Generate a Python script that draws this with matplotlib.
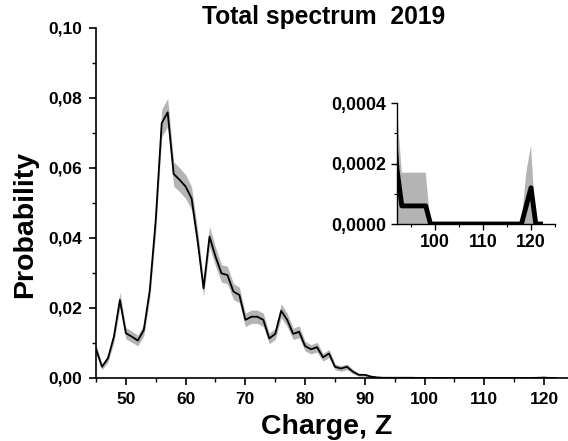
import matplotlib
matplotlib.use("Agg")
import matplotlib.pyplot as plt
from matplotlib.ticker import FuncFormatter, MultipleLocator
import numpy as np

plt.rcParams['font.family'] = ['Liberation Sans', 'DejaVu Sans']
plt.rcParams['font.weight'] = 'bold'

charge = list(range(45, 123))
prob = [0.0083, 0.0032, 0.0056, 0.0118, 0.0223, 0.0128, 0.0118, 0.0107, 0.0137, 0.0250,
        0.0451, 0.0728, 0.0759, 0.0583, 0.0566, 0.0547, 0.0513, 0.0394, 0.0256, 0.0404,
        0.0347, 0.0299, 0.0294, 0.0247, 0.0237, 0.0166, 0.0175, 0.0175, 0.0166, 0.0113,
        0.0126, 0.0192, 0.0166, 0.0126, 0.0132, 0.0091, 0.0082, 0.0088, 0.0059, 0.0070,
        0.0032, 0.0027, 0.0032, 0.0018, 0.0009, 0.0009, 0.0004, 0.00018,
        0.00006, 0.00006, 0.00006, 0.00006, 0.00006, 0.00006,
        0, 0, 0, 0, 0, 0, 0, 0, 0, 0, 0, 0, 0, 0, 0, 0, 0, 0, 0, 0,
        0.00006, 0.00012, 0, 0]
err = [0.0013, 0.0008, 0.0011, 0.0016, 0.0022, 0.0016, 0.0016, 0.0015, 0.0017, 0.0023,
       0.0031, 0.0039, 0.0040, 0.0035, 0.0034, 0.0034, 0.0033, 0.0029, 0.0023, 0.0029,
       0.0027, 0.0025, 0.0025, 0.0023, 0.0022, 0.0019, 0.0019, 0.0019, 0.0019, 0.0015,
       0.0016, 0.0020, 0.0019, 0.0016, 0.0017, 0.0014, 0.0013, 0.0014, 0.0011, 0.0012,
       0.0008, 0.0008, 0.0008, 0.0006, 0.0004, 0.0004, 0.0003, 0.00020,
       0.00011, 0.00011, 0.00011, 0.00011, 0.00011, 0.00011,
       0, 0, 0, 0, 0, 0, 0, 0, 0, 0, 0, 0, 0, 0, 0, 0, 0, 0, 0, 0,
       0.00011, 0.00014, 0, 0]

x = np.array(charge)
y = np.array(prob)
e = np.array(err)

def comma(nd):
    return FuncFormatter(lambda v, p: f"{v:.{nd}f}".replace('.', ','))

fig = plt.figure(figsize=(5.68, 4.41), dpi=100)
ax = fig.add_axes([0.169, 0.1429, 0.831, 0.7937])
ax.fill_between(x, y - e, y + e, color='#b4b4b4', lw=0)
ax.plot(x, y, color='black', lw=1.3)
ax.set_xlim(45, 124)
ax.set_ylim(0, 0.10)
ax.spines['top'].set_visible(False)
ax.spines['right'].set_visible(False)
for s in ax.spines.values():
    s.set_linewidth(1.2)
ax.xaxis.set_major_locator(MultipleLocator(10))
ax.xaxis.set_minor_locator(MultipleLocator(5))
ax.yaxis.set_major_locator(MultipleLocator(0.02))
ax.yaxis.set_minor_locator(MultipleLocator(0.01))
ax.yaxis.set_major_formatter(comma(2))
ax.tick_params(which='major', direction='out', length=5, width=1.2, labelsize=12.5, pad=5)
ax.tick_params(which='minor', direction='out', length=3, width=1.0)
for lab in ax.get_xticklabels() + ax.get_yticklabels():
    lab.set_fontweight('bold')

fig.text(0.044, 0.491, 'Probability', rotation=90, ha='center', va='center',
         fontsize=20.5, fontweight='bold')
fig.text(0.576, 0.032, 'Charge, Z', ha='center', va='center',
         fontsize=20.5, fontweight='bold')
fig.text(0.569, 0.961, 'Total spectrum  2019', ha='center', va='center',
         fontsize=17.7, fontweight='bold')

ins = fig.add_axes([0.699, 0.492, 0.278, 0.274])
ins.fill_between(x, np.clip(y - e, 0, None), y + e, color='#b4b4b4', lw=0)
ins.plot(x, y, color='black', lw=3.5)
ins.set_xlim(92, 125)
ins.set_ylim(0, 0.0004)
ins.spines['top'].set_visible(False)
ins.spines['right'].set_visible(False)
for s in ins.spines.values():
    s.set_linewidth(1.0)
ins.xaxis.set_major_locator(MultipleLocator(10))
ins.xaxis.set_minor_locator(MultipleLocator(5))
ins.yaxis.set_major_locator(MultipleLocator(0.0002))
ins.yaxis.set_minor_locator(MultipleLocator(0.0001))
ins.yaxis.set_major_formatter(comma(4))
ins.tick_params(which='major', direction='out', length=4, width=1.0, labelsize=12.8)
ins.tick_params(which='minor', direction='out', length=2, width=0.8)
for lab in ins.get_xticklabels() + ins.get_yticklabels():
    lab.set_fontweight('bold')

fig.savefig('out.png', dpi=100)
